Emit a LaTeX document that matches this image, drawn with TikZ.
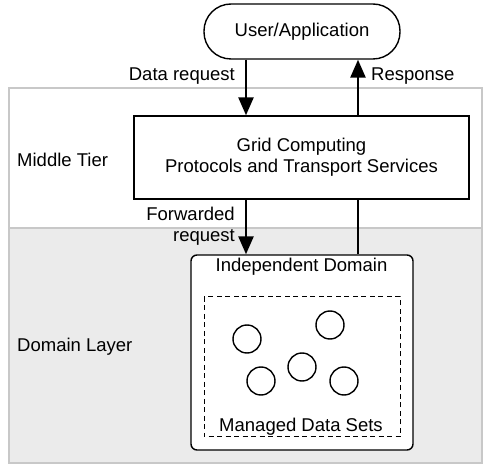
\documentclass[tikz,border=0pt]{standalone}
\usepackage{fontspec}
\setmainfont{Liberation Sans}
\usetikzlibrary{arrows.meta}
\definecolor{bandline}{HTML}{C8C8C8}
\definecolor{bandfill}{HTML}{EBEBEB}
\begin{document}
\begin{tikzpicture}[x=1pt,y=-1pt,
  every node/.style={font=\fontsize{18.5}{21}\selectfont, inner sep=0pt},
  band/.style={draw=bandline, line width=1.5pt},
  boxstyle/.style={draw, line width=1.4pt, fill=white},
  lbl/.style={anchor=west},
  flow/.style={line width=2.6pt, -{Triangle[width=15pt,length=18pt]}},
  plainflow/.style={line width=2.6pt},
  dataset/.style={draw, line width=1.4pt, circle, minimum size=28pt}]
\useasboundingbox (0,0) rectangle (483,465);
% bands
\path[band, fill=white] (9,88) rectangle (482,228);
\path[band, fill=bandfill] (9,228) rectangle (482,463);
\node[lbl] (mt) at (17,160) {Middle Tier};
\node[lbl] (dl) at (17,347) {Domain Layer};
% nodes
\node[boxstyle, rounded corners=27pt, minimum width=196pt, minimum height=55pt] (user) at (302,31.5) {User/Application};
\node[boxstyle, minimum width=335pt, minimum height=83pt, align=center] (grid) at (301.5,157.5) {Grid Computing\\Protocols and Transport Services};
\node[boxstyle, rounded corners=6pt, minimum width=222pt, minimum height=195pt] (dom) at (302,352.5) {};
\node (domt) at (301.5,267) {Independent Domain};
\draw[line width=1pt, dash pattern=on 5pt off 3.5pt] (204,297) rectangle (400,437);
\node (mdst) at (301,427) {Managed Data Sets};
\node[dataset] (c1) at (247,339) {};
\node[dataset] (c2) at (330,325) {};
\node[dataset] (c3) at (302,367) {};
\node[dataset] (c4) at (261,381) {};
\node[dataset] (c5) at (344,381) {};
% connectors
\draw[flow] (user.south -| 246,0) -- (grid.north -| 246,0);
\draw[flow] (grid.north -| 358,0) -- (user.south -| 358,0);
\draw[flow] (grid.south -| 246,0) -- (dom.north -| 246,0);
\draw[plainflow] (dom.north -| 358,0) -- (grid.south -| 358,0);
% labels
\node[anchor=east] (dr) at (235,76) {Data request};
\node[anchor=west] (rs) at (371,76) {Response};
\node[anchor=east, align=right] (fr) at (235,226) {Forwarded\\request};
\end{tikzpicture}
\end{document}
